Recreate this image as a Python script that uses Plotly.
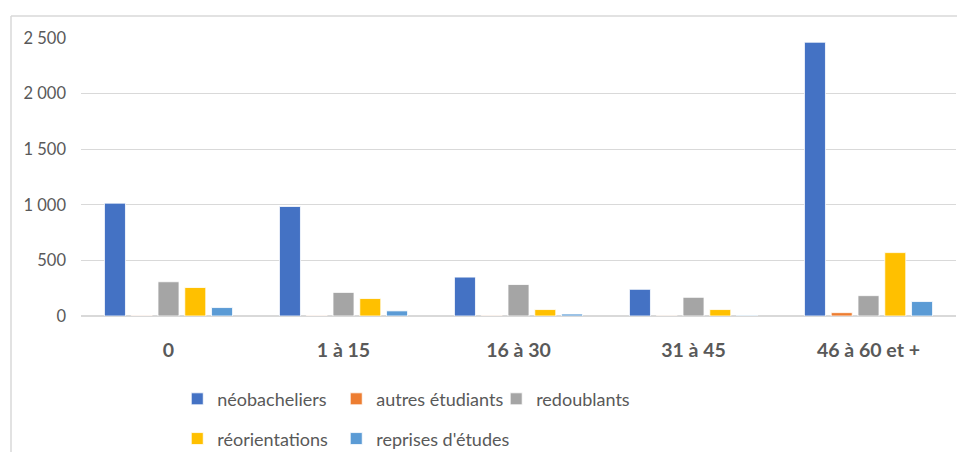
import plotly.graph_objects as go

categories = ["0", "1 à 15", "16 à 30", "31 à 45", "46 à 60 et +"]
neobacheliers = [1015, 985, 350, 240, 2462]
autres_etudiants = [4, 4, 3, 2, 30]
redoublants = [308, 212, 283, 168, 183]
reorientations = [256, 157, 58, 58, 570]
reprises_etudes = [76, 46, 18, 6, 130]

series_names = ["néobacheliers", "autres étudiants", "redoublants",
                "réorientations", "reprises d'études"]
series_values = [neobacheliers, autres_etudiants, redoublants,
                 reorientations, reprises_etudes]
series_colors = ["#4472C4", "#ED7D31", "#A5A5A5", "#FFC000", "#5B9BD5"]

# legend slot for each series (one legend per entry so the 3 + 2 layout is exact)
legend_ids = ["legend", "legend2", "legend3", "legend4", "legend5"]
legend_x = [0.1100, 0.2917, 0.4745, 0.1100, 0.2917]
legend_y = [-0.299, -0.299, -0.299, -0.442, -0.442]

fig = go.Figure()
for name, vals, color, lg in zip(series_names, series_values, series_colors, legend_ids):
    fig.add_trace(go.Bar(
        x=categories, y=vals, name=name,
        marker=dict(color=color, line=dict(color="white", width=0.8)),
        legend=lg, showlegend=True,
    ))

FONT = "Lato"
GRAY = "#595959"
legend_layout = {}
for lg, lx, ly in zip(legend_ids, legend_x, legend_y):
    legend_layout[lg] = dict(
        x=lx, y=ly, orientation="h", xanchor="left", yanchor="middle",
        font=dict(family=FONT, size=18, color=GRAY),
        bgcolor="rgba(0,0,0,0)", itemclick=False, visible=True,
    )

fig.update_layout(
    width=949, height=444,
    margin=dict(l=73, r=1, t=30, b=136, autoexpand=False),
    showlegend=True,
    paper_bgcolor="white", plot_bgcolor="white",
    separators=", ",
    barmode="group", bargap=0.235, bargroupgap=0.215,
    font=dict(family=FONT, color=GRAY),
    xaxis=dict(
        automargin=False,
        showgrid=False, showline=False, ticks="",
        tickfont=dict(family=FONT, size=19.5, color=GRAY, weight="bold"),
        ticklabelstandoff=20,
    ),
    yaxis=dict(
        automargin=False,
        range=[0, 2500], tickvals=[0, 500, 1000, 1500, 2000, 2500],
        tickformat=",d",
        showgrid=True, gridcolor="#D9D9D9", gridwidth=1.3,
        zeroline=True, zerolinecolor="#D9D9D9", zerolinewidth=1.5,
        showline=False, ticks="",
        tickfont=dict(family=FONT, size=16.5, color=GRAY),
        ticklabelstandoff=14,
    ),
    shapes=[
        dict(type="line", xref="paper", yref="paper", x0=-0.08, x1=-0.08,
             y0=1.079, y1=-0.7, line=dict(color="#D9D9D9", width=1.5)),
        dict(type="line", xref="paper", yref="paper", x0=-0.08, x1=1.05,
             y0=1.079, y1=1.079, line=dict(color="#D9D9D9", width=1.5)),
    ],
    **legend_layout,
)

fig.write_html("out.html")
